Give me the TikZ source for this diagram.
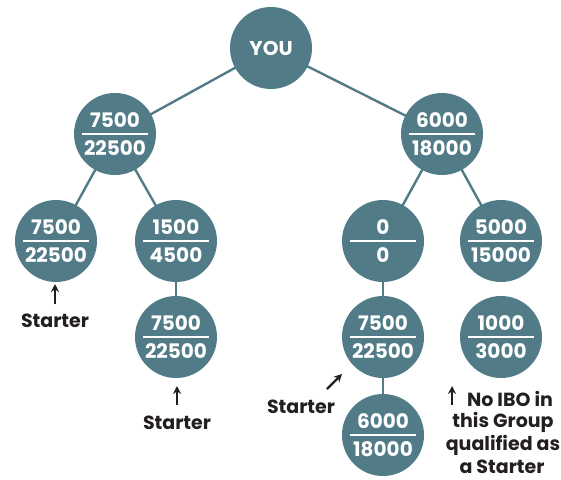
\documentclass[tikz,border=0pt]{standalone}
\usepackage{fontspec}
\setmainfont{Poppins}
\usetikzlibrary{arrows.meta,backgrounds}
\definecolor{tealc}{HTML}{507B87}
\definecolor{inkc}{HTML}{231F20}
\newcommand\fr[2]{\vbox{\hbox to 66pt{\hss #1\hss}\kern5pt\hrule height 2.4pt\kern5pt\hbox to 66pt{\hss #2\hss}}}
\tikzset{
  circ/.style={circle, fill=tealc, minimum size=82pt, inner sep=0pt, text=white, font=\fontsize{20}{22}\selectfont\bfseries},
  conn/.style={draw=tealc, line width=2.4pt},
  lab/.style={text=inkc, font=\fontsize{19}{21}\selectfont\bfseries, inner sep=0pt},
  arr/.style={draw=inkc, line width=2.3pt, -{Stealth[length=8pt,width=8pt]}}
}
\begin{document}
\begin{tikzpicture}[x=1pt,y=-1pt]
\useasboundingbox (0,0) rectangle (561,479);
\node[circ] (you) at (271,48) {YOU};
\node[circ] (l) at (115,134) {\fr{7500}{22500}};
\node[circ] (r) at (442,134) {\fr{6000}{18000}};
\node[circ] (ll) at (56,241) {\fr{7500}{22500}};
\node[circ] (lr) at (176,241) {\fr{1500}{4500}};
\node[circ] (lrc) at (176,337) {\fr{7500}{22500}};
\node[circ] (rl) at (383,241) {\fr{0}{0}};
\node[circ] (rr) at (501,241) {\fr{5000}{15000}};
\node[circ] (rlc) at (383,337) {\fr{7500}{22500}};
\node[circ] (rrc) at (501,337) {\fr{1000}{3000}};
\node[circ] (rlcc) at (383,435) {\fr{6000}{18000}};
\begin{scope}[on background layer]
\draw[conn] (you.center) -- (l.center);
\draw[conn] (you.center) -- (r.center);
\draw[conn] (l.center) -- (ll.center);
\draw[conn] (l.center) -- (lr.center);
\draw[conn] (r.center) -- (rl.center);
\draw[conn] (r.center) -- (rr.center);
\draw[conn] (lr.center) -- (lrc.center);
\draw[conn] (rl.center) -- (rlc.center);
\draw[conn] (rlc.center) -- (rlcc.center);
\end{scope}
% Starter labels
\node[lab] (s1) at (55,321) {Starter};
\coordinate (a1s) at (55,304); \coordinate (a1e) at (55,284);
\draw[arr] (a1s) -- (a1e);
\node[lab] (s2) at (177,423) {Starter};
\coordinate (a2s) at (177,405); \coordinate (a2e) at (177,386);
\draw[arr] (a2s) -- (a2e);
\node[lab] (s3) at (301,407) {Starter};
\coordinate (a3s) at (327,389); \coordinate (a3e) at (342,374);
\draw[arr] (a3s) -- (a3e);
% No IBO note
\node[lab] (n1) at (510,399) {No IBO in};
\node[lab] (n2) at (503,422) {this Group};
\node[lab] (n3) at (503,445) {qualified as};
\node[lab] (n4) at (502,467) {a Starter};
\coordinate (a4s) at (452,405); \coordinate (a4e) at (452,386);
\draw[arr] (a4s) -- (a4e);
\end{tikzpicture}
\end{document}
